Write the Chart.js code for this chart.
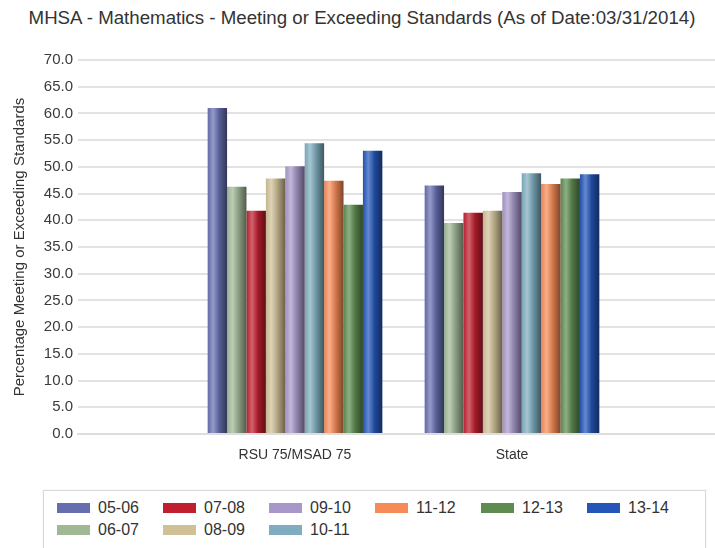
<!DOCTYPE html>
<html>
<head>
<meta charset="utf-8">
<title>MHSA - Mathematics</title>
<script src="https://cdn.jsdelivr.net/npm/chart.js@4.4.1/dist/chart.umd.min.js"></script>
<style>
    html, body { margin: 0; padding: 0; width: 715px; height: 548px; overflow: hidden; background: #fff; }
    #title {
        position: absolute; left: 0; top: 9px; width: 724px; text-align: center;
        font: 18.7px "Liberation Sans", Arial, sans-serif; line-height: 18px;
        color: #333; white-space: nowrap;
    }
    #wrap { position: absolute; left: 0; top: 0; width: 734px; height: 480px; }
    #legend {
        position: absolute; left: 43px; top: 490px; width: 663px; height: 70px;
        border: 1px solid #d9d9d9; box-shadow: 0 0 2px rgba(0,0,0,0.08);
        box-sizing: border-box;
        display: grid; grid-template-columns: repeat(6, 106px); grid-auto-rows: 22px;
        padding: 6px 0 0 13px;
        font: 16px "Liberation Sans", Arial, sans-serif; color: #333;
    }
    .item { display: flex; align-items: center; white-space: nowrap; }
    .swatch { width: 33px; height: 10px; margin-right: 8px; }
</style>
</head>
<body>
<div id="title">MHSA - Mathematics - Meeting or Exceeding Standards (As of Date:03/31/2014)</div>
<div id="wrap"><canvas id="chart"></canvas></div>
<div id="legend"></div>
<script>
// データ
const categories = ['', 'RSU 75/MSAD 75', 'State', ''];
const seasons = ['05-06', '06-07', '07-08', '08-09', '09-10', '10-11', '11-12', '12-13', '13-14'];
const rsuValues = [61.0, 46.3, 41.8, 47.8, 50.1, 54.4, 47.4, 42.9, 53.0];
const stateValues = [46.5, 39.5, 41.4, 41.8, 45.3, 48.8, 46.8, 47.8, 48.6];
const seasonColors = ['#666eb0', '#a1b896', '#bf1f2f', '#cfc096', '#a898c9', '#7fadbf', '#f68b57', '#5e8c50', '#2356b8'];
const yTicks = { min: 0, max: 70, step: 5 };
// 凡例の並び順（2行で表示）
const legendOrder = [0, 2, 4, 6, 7, 8, 1, 3, 5];

// 色を混ぜる
function mix(hex, target, t) {
    const a = parseInt(hex.slice(1), 16), b = parseInt(target.slice(1), 16);
    const ch = (v, s) => (v >> s) & 255;
    const r = Math.round(ch(a, 16) + (ch(b, 16) - ch(a, 16)) * t);
    const g = Math.round(ch(a, 8) + (ch(b, 8) - ch(a, 8)) * t);
    const bl = Math.round(ch(a, 0) + (ch(b, 0) - ch(a, 0)) * t);
    return `rgb(${r},${g},${bl})`;
}

// 円柱っぽいグラデーション
function barFill(ctx) {
    const base = seasonColors[ctx.datasetIndex];
    if (ctx.type !== 'data') return base;
    const chart = ctx.chart;
    const el = chart.getDatasetMeta(ctx.datasetIndex).data[ctx.dataIndex];
    if (!el || !el.width) return base;
    const x0 = el.x - el.width / 2;
    const g = chart.ctx.createLinearGradient(x0, 0, x0 + el.width, 0);
    g.addColorStop(0, mix(base, '#000000', 0.05));
    g.addColorStop(0.28, mix(base, '#ffffff', 0.3));
    g.addColorStop(0.6, mix(base, '#000000', 0.15));
    g.addColorStop(1, mix(base, '#000000', 0.5));
    return g;
}

const datasets = seasons.map((s, i) => ({
    label: s,
    data: [null, rsuValues[i], stateValues[i], null],
    backgroundColor: barFill,
    borderWidth: 0,
    barPercentage: 1.0,
    categoryPercentage: 0.805
}));

const chart = new Chart(document.getElementById('chart'), {
    type: 'bar',
    data: { labels: categories, datasets: datasets },
    options: {
        responsive: true,
        maintainAspectRatio: false,
        animation: false,
        layout: { padding: { top: 60, right: 1, bottom: 6, left: 0 } },
        plugins: {
            legend: { display: false },
            tooltip: { enabled: false }
        },
        scales: {
            x: {
                offset: false,
                grid: { display: false },
                border: { display: true, color: '#dddddd', width: 2 },
                ticks: {
                    padding: 5,
                    autoSkip: false,
                    maxRotation: 0,
                    color: '#333',
                    font: { family: 'Liberation Sans', size: 14 }
                },
                afterFit: s => { s.height = 40; }
            },
            y: {
                min: yTicks.min,
                max: yTicks.max,
                grid: { color: '#e2e2e2', lineWidth: 2, drawTicks: false },
                border: { display: false },
                ticks: {
                    stepSize: yTicks.step,
                    padding: 5,
                    color: '#3a3a3a',
                    font: { family: 'Liberation Sans', size: 15 },
                    callback: v => v.toFixed(1)
                },
                title: {
                    display: true,
                    text: 'Percentage Meeting or Exceeding Standards',
                    color: '#333',
                    font: { family: 'Liberation Sans', size: 15 },
                    padding: { top: 11, bottom: 0 }
                },
                afterFit: s => { s.width = 78; }
            }
        }
    }
});
// 要素の位置が決まった後にグラデーションを再計算
chart.update('none');

// 凡例
const legend = document.getElementById('legend');
legendOrder.forEach((idx, pos) => {
    const item = document.createElement('div');
    item.className = 'item';
    item.style.gridColumn = String((pos % 6) + 1);
    item.style.gridRow = String(Math.floor(pos / 6) + 1);
    const sw = document.createElement('span');
    sw.className = 'swatch';
    sw.style.background = seasonColors[idx];
    const label = document.createElement('span');
    label.textContent = chart.data.datasets[idx].label;
    item.appendChild(sw);
    item.appendChild(label);
    legend.appendChild(item);
});
</script>
</body>
</html>
